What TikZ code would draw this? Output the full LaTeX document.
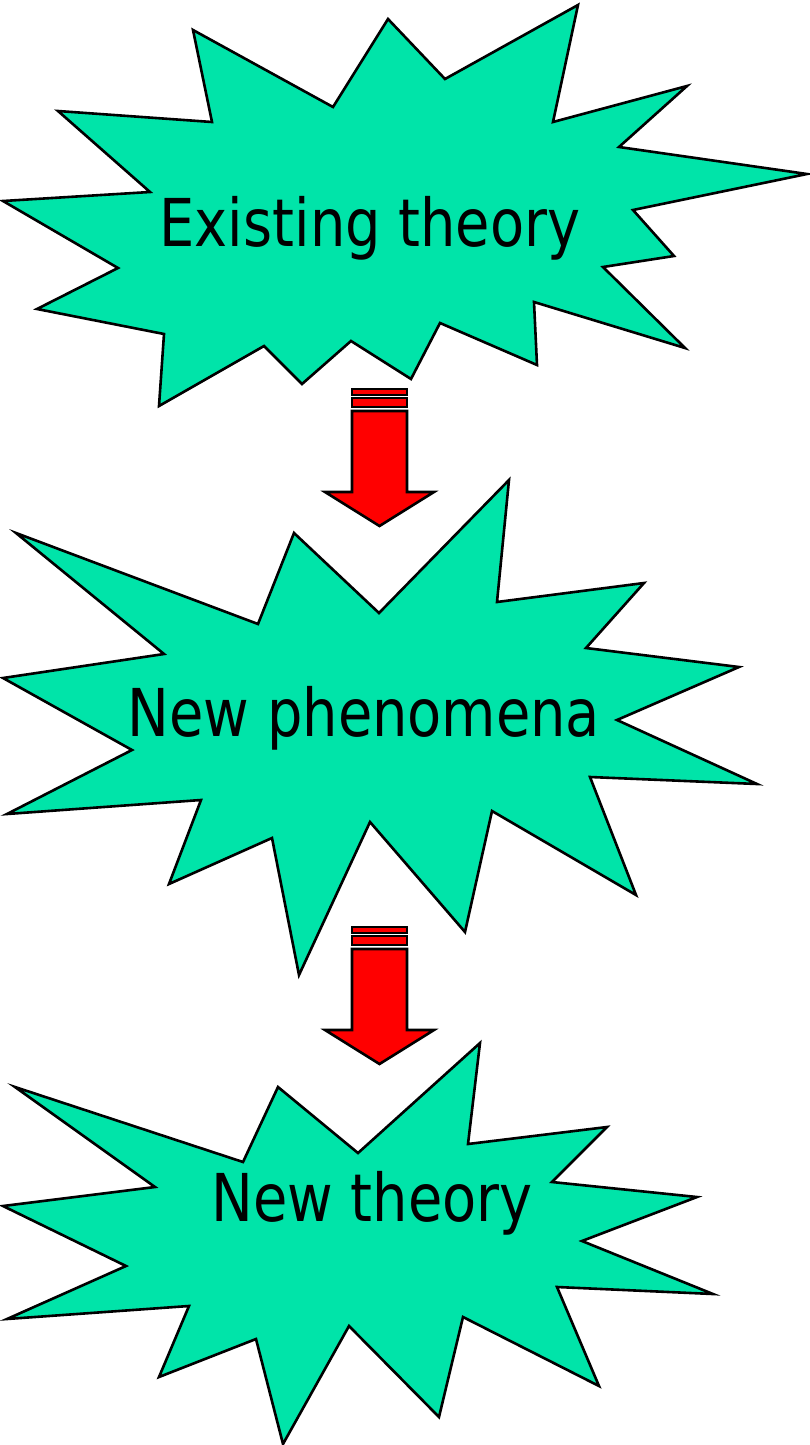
\documentclass[tikz,border=0pt]{standalone}
\usepackage{fontspec}
\setmainfont{DejaVu Sans Condensed}
\definecolor{burst}{HTML}{00E4A9}
\definecolor{arrowred}{HTML}{FF0000}
\tikzset{
  burstshape/.style={draw=black, fill=burst, line width=2.6pt, line join=miter},
  blockarrow/.style={draw=black, fill=arrowred, line width=2.6pt, line join=miter},
  bursttext/.style={anchor=base, inner sep=0pt, xscale=0.94, transform shape, font=\fontsize{66}{70}\selectfont}
}
\begin{document}
\begin{tikzpicture}[x=1pt, y=-1pt]
\useasboundingbox (0,0) rectangle (809,1445);
% starburst 1
\draw[burstshape] (193,30) -- (212,122) -- (58,111) -- (150,192) -- (3,201) -- (118,268) -- (37,309) -- (164,334) -- (159,406) -- (264,346) -- (302,384) -- (351,341) -- (411,379) -- (440,323) -- (537,365) -- (534,302) -- (685,348) -- (603,267) -- (674,256) -- (633,210) -- (807,174) -- (619,147) -- (687,86) -- (553,122) -- (578,5) -- (445,79) -- (388,19) -- (333,107) -- cycle;
% starburst 2
\draw[burstshape] (294,533) -- (258,624) -- (16,533) -- (164,654) -- (3,678) -- (132,750) -- (7,814) -- (201,800) -- (169,884) -- (272,838) -- (299,975) -- (370,822) -- (465,932) -- (492,811) -- (636,895) -- (590,777) -- (757,784) -- (617,720) -- (739,667) -- (586,648) -- (644,583) -- (497,602) -- (509,480) -- (379,613) -- cycle;
% starburst 3
\draw[burstshape] (278,1087) -- (243,1162) -- (15,1087) -- (155,1187) -- (3,1206) -- (126,1266) -- (7,1319) -- (189,1306) -- (159,1377) -- (256,1339) -- (283,1444) -- (349,1326) -- (439,1417) -- (463,1317) -- (599,1386) -- (557,1287) -- (713,1294) -- (582,1241) -- (697,1197) -- (552,1182) -- (607,1127) -- (468,1144) -- (480,1043) -- (358,1153) -- cycle;
% texts
\node[bursttext] (t1) at (370,246) {Existing theory};
\node[bursttext] (t2) at (364,736) {New phenomena};
\node[bursttext] (t3) at (372,1221) {New theory};
% arrows
\foreach \dy in {0,538}{
  \begin{scope}[yshift=-\dy pt]
    \draw[blockarrow] (352,389) rectangle (407,395);
    \draw[blockarrow] (352,398) rectangle (407,407);
    \draw[blockarrow] (352,411) -- (407,411) -- (407,492) -- (434,492) -- (379.5,526) -- (325,492) -- (352,492) -- cycle;
  \end{scope}
}
\end{tikzpicture}
\end{document}
